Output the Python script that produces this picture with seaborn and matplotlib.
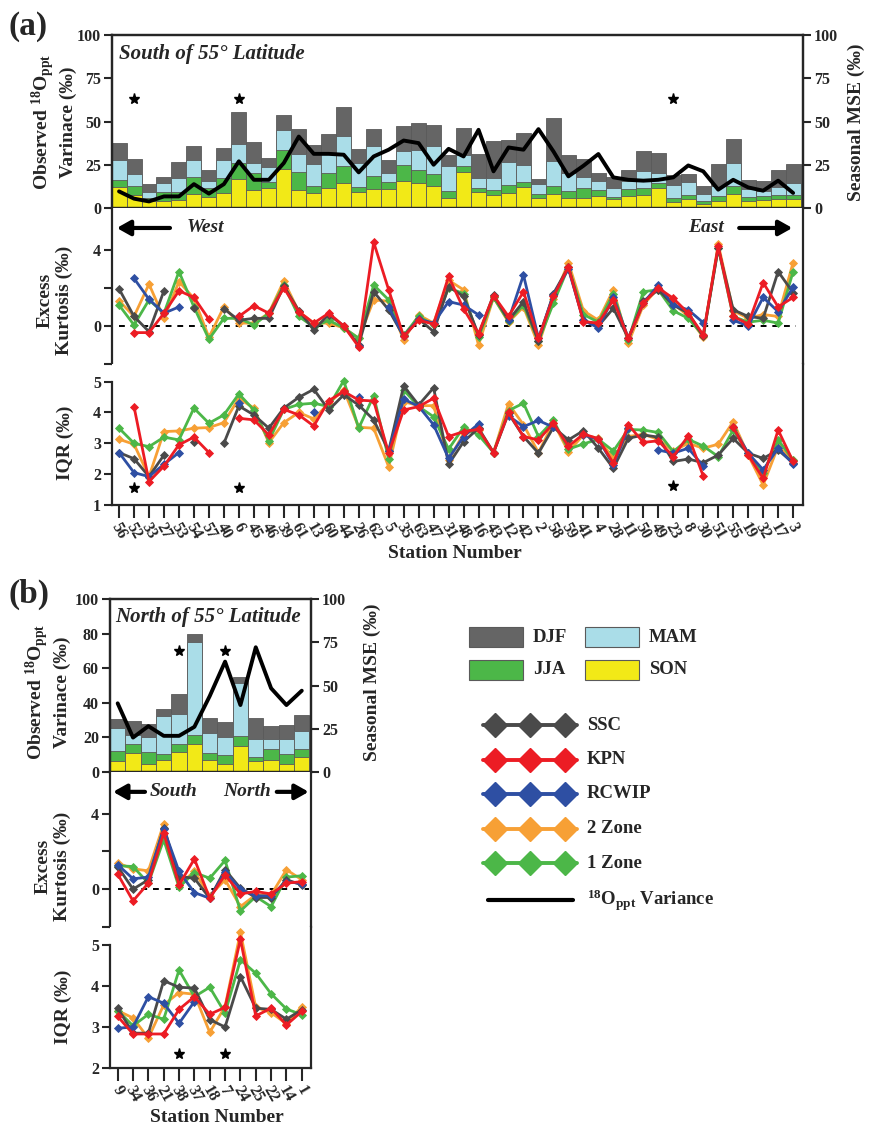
import numpy as np
import pandas as pd
import matplotlib
matplotlib.use("Agg")
import matplotlib.pyplot as plt
import seaborn as sns
from matplotlib.patches import Rectangle

sns.set_style("ticks")
plt.rcParams.update({
    "font.family": ["Liberation Serif", "DejaVu Serif"],
    "font.weight": "bold",
    "axes.labelweight": "bold",
    "mathtext.fontset": "custom",
    "mathtext.rm": "Liberation Serif:bold",
    "mathtext.bf": "Liberation Serif:bold",
    "mathtext.it": "Liberation Serif:italic:bold",
    "mathtext.default": "rm",
    "axes.linewidth": 1.6,
})

nan = np.nan

# ---------------- Panel (a): south of 55 deg ----------------
stations_a = ["56", "52", "33", "27", "53", "54", "57", "40", "6", "45", "46", "39", "61", "13",
              "60", "44", "26", "62", "5", "35", "63", "47", "31", "48", "16", "43", "12", "42",
              "2", "58", "59", "41", "4", "28", "11", "50", "49", "23", "8", "30", "51", "55",
              "19", "32", "17", "3"]
son_a = [12, 7.7, 4, 4, 4.6, 8, 6.5, 8.7, 17, 10.2, 11.3, 22.7, 10.2, 8.7, 11.5, 14.4, 9, 11, 11,
         15.4, 14.4, 12.5, 5.8, 20.8, 9, 7.3, 8.7, 12, 5.8, 8, 5.8, 5.8, 7.1, 5.2, 7.1, 7.3, 11.5,
         3.3, 5.2, 2.3, 4.2, 8, 4.2, 4.8, 5, 5.2]
jja_a = [4, 5.3, 2, 5, 4.4, 9.7, 5, 8.6, 9.3, 10, 3.5, 11, 10.6, 4.2, 8.7, 9.6, 3, 7.5, 3.8, 9.2,
         7.3, 7.3, 4.2, 3.2, 2.5, 3.3, 4.8, 2.8, 2.2, 4.5, 3.8, 5.7, 3.1, 1.1, 4.1, 4.2, 2.9, 2.5,
         2.5, 1.5, 2.5, 4.5, 2.1, 1.9, 2.5, 2.5]
mam_a = [12, 6.6, 3, 5.2, 8.3, 9.8, 3.9, 10.6, 10.8, 6.1, 8.7, 11.1, 10.5, 12.5, 11.9, 17.7, 14,
         17.5, 5.2, 8.4, 12, 15.8, 14, 6.4, 5.8, 6.7, 13, 10.2, 5.8, 14.8, 10.6, 6.2, 5.2, 5.2, 4.2,
         9.7, 5.8, 7.7, 7.1, 4.2, 5.8, 13.8, 4.7, 2.9, 4.5, 6.7]
djf_a = [9.5, 8.7, 4.8, 3.7, 9.2, 8.1, 6.3, 6.7, 18.5, 12, 5.5, 8.9, 14.5, 10.8, 10.6, 16.6, 8.2,
         9.6, 8, 14.5, 15.7, 12.4, 6.4, 16.1, 14, 21.2, 12.9, 18.3, 3.1, 25, 10.6, 10.6, 4.8, 6.2,
         6.7, 11.8, 11.5, 5.3, 4.8, 4.9, 13.1, 13.5, 5.3, 5.8, 9.7, 11]
mse_a = [9.6, 5.4, 3.8, 6.7, 6.7, 13.8, 8.3, 13.8, 27, 16.3, 16.3, 26, 41.3, 31.3, 31.3, 30.8,
         20.6, 29.8, 33.7, 39, 37.5, 25, 34.2, 29.8, 45.2, 21.2, 35, 33.7, 45.6, 32.7, 18.3, 24.4,
         31.2, 17.7, 16.3, 15.8, 16.3, 17.7, 24.6, 21.2, 10.6, 16.3, 11.9, 10, 15.8, 8.7]

kurt_ssc_a = [1.95, 0.5, -0.3, 1.85, nan, 0.93, nan, 0.9, 0.3, 0.4, 0.4, 2.1, 0.8, -0.2, 0.6, 0.0,
              -1.0, 1.8, 0.85, -0.55, 0.37, -0.3, 2.07, 1.55, -0.47, 1.63, 0.3, 1.28, -0.8, 1.7,
              3.1, 0.3, 0.0, 0.93, -0.65, 1.3, 1.9, 1.1, 0.67, -0.55, 4.1, 0.85, 0.5, 0.4, 2.86, 1.75]
kurt_kpn_a = [nan, -0.35, -0.35, 0.67, 1.85, 1.5, 0.35, nan, 0.5, 1.07, 0.67, 2.0, 0.75, 0.15,
              0.67, 0.0, -1.1, 4.4, 1.9, -0.55, 0.3, 0.1, 2.6, 0.9, -0.4, 1.6, 0.5, 1.8, -0.65,
              1.55, 3.1, 0.23, 0.15, 1.37, -0.65, 1.2, 2.0, 1.45, 0.67, -0.47, 4.2, 0.5, 0.1, 2.28,
              1.0, 1.5]
kurt_rcwip_a = [nan, 2.5, 1.4, 0.67, 1.0, nan, nan, nan, 0.5, nan, nan, nan, nan, nan, nan, nan,
                -1.05, nan, 1.0, -0.55, 0.35, 0.15, 1.28, 1.1, 0.58, nan, 0.3, 2.68, -0.65, 1.63,
                3.0, 0.3, -0.1, 1.5, -0.65, 1.2, 2.15, 1.1, 0.85, 0.17, nan, 0.3, 0.0, 1.5, 0.75,
                2.03]
kurt_2z_a = [1.33, 0.5, 2.2, 0.4, 2.33, 1.45, -0.6, 1.0, 0.15, 0.15, 0.67, 2.37, 0.75, 0.15, 0.15,
             -0.1, -0.65, 1.37, 1.3, -0.75, 0.58, 0.15, 2.4, 1.9, -1.0, 1.5, 0.2, 1.0, -1.0, 1.4,
             3.33, 0.8, 0.3, 1.9, -0.9, 1.1, 2.0, 1.2, 0.5, -0.6, 4.3, 0.8, 0.4, 0.6, 0.5, 3.33]
kurt_1z_a = [1.1, 0.05, 1.37, 0.67, 2.86, 1.0, -0.7, 0.4, 0.4, 0.05, 0.67, 2.15, 0.5, -0.05, 0.3,
             -0.1, -0.65, 2.15, 1.37, -0.5, 0.5, 0.05, 2.0, 1.7, -0.6, 1.5, 0.25, 1.1, -0.8, 1.2,
             3.1, 0.6, 0.2, 1.7, -0.75, 1.8, 1.9, 0.8, 0.4, -0.5, 4.1, 0.5, 0.2, 0.3, 0.15, 2.86]

iqr_ssc_a = [2.7, 2.5, 1.92, 2.62, nan, 3.05, nan, 3.0, 4.21, 3.92, 3.49, 4.14, 4.49, 4.75, 4.08,
             4.57, 4.24, 3.76, 2.75, 4.86, 4.24, 4.8, 2.32, 3.05, 3.49, 2.7, 3.97, 3.22, 2.68, 3.52,
             3.11, 3.41, 2.84, 2.19, 3.16, 3.27, 3.2, 2.41, 2.49, 2.37, 2.62, 3.16, 2.68, 2.51,
             2.78, 2.37]
iqr_kpn_a = [nan, 4.19, 1.76, 2.26, 2.95, 3.2, 2.7, nan, 3.81, 3.76, 3.27, 4.1, 3.92, 3.56, 4.38,
             4.68, 4.4, 4.37, 2.68, 4.08, 4.19, 4.46, 3.22, 3.38, 3.45, 2.7, 4.0, 3.22, 3.11, 3.65,
             2.9, 3.3, 3.15, 2.35, 3.6, 3.03, 3.08, 2.57, 3.24, 1.94, nan, 3.52, 2.62, 1.86, 3.43,
             2.41]
iqr_rcwip_a = [2.7, 2.05, 1.92, 2.32, 2.7, nan, nan, nan, 4.32, nan, nan, nan, nan, 4.0, nan, nan,
               4.49, nan, 2.75, 4.43, 4.2, 3.6, 2.51, 3.22, 3.63, nan, 3.89, 3.54, 3.74, 3.52, nan,
               3.27, 3.13, 2.3, 3.49, nan, 2.78, 2.68, 2.84, 2.26, nan, 3.52, 2.68, 2.14, 2.84, 2.33]
iqr_2z_a = [3.13, 2.97, 1.92, 3.38, 3.4, 3.49, 3.51, 3.67, 4.46, 4.14, 3.02, 3.67, 4.0, 3.79, 4.3,
            4.73, 3.52, 3.49, 2.24, 4.35, 4.22, 4.22, 2.45, 3.32, 3.43, 2.7, 4.28, 3.6, 2.7, 3.67,
            2.73, 3.27, 3.16, 2.51, 3.22, 3.29, 3.13, 2.75, 3.0, 2.84, 2.97, 3.7, 2.62, 1.65, 2.9,
            2.46]
iqr_1z_a = [3.49, 3.0, 2.89, 3.2, 3.11, 4.14, 3.65, 3.92, 4.6, 4.08, 3.08, 4.1, 4.26, 4.3, 4.19,
            5.03, 3.49, 4.54, 2.49, 4.73, 4.19, 3.86, 2.81, 3.52, 3.27, 2.7, 4.06, 4.3, 3.22, 3.74,
            2.81, 2.98, 3.13, 2.75, 3.45, 3.43, 3.35, 2.73, 3.13, 2.91, 2.57, 3.43, 2.68, 2.03,
            3.11, 2.46]

star_idx_a = [1, 8, 37]
star_top_a = [63, 63, 63]
star_iqr_a = [1.55, 1.56, 1.6]

# ---------------- Panel (b): north of 55 deg ----------------
stations_b = ["9", "34", "36", "21", "38", "37", "18", "7", "24", "25", "22", "14", "1"]
son_b = [6.4, 11, 4.4, 7.2, 11.4, 16.4, 6.8, 4.8, 15.1, 6.2, 6.8, 4.4, 8.7]
jja_b = [5.6, 5, 7.2, 3.4, 5, 4.9, 4.2, 5.2, 5.6, 2.5, 6.7, 5.9, 4.5]
mam_b = [13.7, 5.3, 8.4, 21.9, 17.4, 53.6, 11.8, 10.3, 30.6, 10.6, 5.8, 9, 10.4]
djf_b = [4.9, 8.1, 8, 3.7, 11.5, 5, 8.5, 8.7, 3.8, 12, 7.4, 7.8, 9.1]
mse_b = [39.7, 19.9, 26.5, 20.9, 20.9, 26.1, 43.9, 63.8, 38.7, 72.1, 48.4, 38.7, 47.0]

kurt_ssc_b = [1.2, 0.0, 0.5, 3.24, 0.67, 0.58, -0.48, 1.03, 0.05, -0.44, -0.44, 0.5, 0.23]
kurt_kpn_b = [0.8, -0.62, 0.32, 2.97, 0.23, 1.6, -0.48, 0.76, -0.25, -0.12, -0.25, 0.32, 0.4]
kurt_rcwip_b = [1.3, 0.55, 0.64, 3.2, 0.94, -0.18, -0.48, 0.9, 0.0, -0.35, -0.35, 0.4, 0.3]
kurt_2z_b = [1.38, 1.08, 0.97, 3.45, 0.23, 0.94, -0.35, 0.5, -0.92, -0.3, -0.3, 1.03, 0.5]
kurt_1z_b = [1.24, 1.2, 0.32, 2.62, 0.1, 0.88, 0.58, 1.52, -1.15, -0.39, -0.92, 0.64, 0.71]

iqr_ssc_b = [3.46, 2.85, 2.85, 4.13, 3.97, 3.95, 3.18, 3.0, 4.23, 3.46, 3.43, 3.19, 3.42]
iqr_kpn_b = [3.26, 2.83, 2.83, 2.83, 3.43, 3.74, 3.31, 3.48, 5.14, 3.27, 3.46, 3.05, 3.38]
iqr_rcwip_b = [2.97, 3.0, 3.74, 3.58, 3.09, 3.62, nan, nan, nan, nan, nan, nan, nan]
iqr_2z_b = [3.4, 3.22, 2.73, 3.54, 3.84, 3.8, 2.87, 3.5, 5.31, 3.48, 3.35, 3.08, 3.5]
iqr_1z_b = [3.4, 3.03, 3.31, 3.19, 4.39, 3.74, 3.97, 3.34, 4.64, 4.31, 3.81, 3.44, 3.3]

star_idx_b = [4, 7]
star_top_b = [70, 70]
star_iqr_b = [2.33, 2.35]

season_names = ["DJF", "MAM", "JJA", "SON"]
model_names = ["SSC", "KPN", "RCWIP", "2 Zone", "1 Zone"]

# ---------------- styling ----------------
C_DJF, C_MAM, C_JJA, C_SON = "#656565", "#aadde8", "#4cb748", "#f2e917"
BAR_EDGE = "#5a5a5a"
MODEL_COLORS = {"SSC": "#4a4a4a", "KPN": "#ec1c24", "RCWIP": "#2e4fa3",
                "2 Zone": "#f7a035", "1 Zone": "#4cb748"}
DRAW_ORDER = ["2 Zone", "1 Zone", "SSC", "RCWIP", "KPN"]

W, H = 870, 1128
fig = plt.figure(figsize=(W / 100, H / 100), dpi=100)


def rect(x0, y0, x1, y1):
    return [x0 / W, 1 - y1 / H, (x1 - x0) / W, (y1 - y0) / H]


def fp(x, y):
    return x / W, 1 - y / H


def draw_series(ax, vals, color):
    v = np.asarray(vals, dtype=float)
    df = pd.DataFrame({"pos": np.arange(len(v)), "val": v,
                       "seg": np.cumsum(np.isnan(v))})
    sns.lineplot(data=df, x="pos", y="val", units="seg", estimator=None, sort=False,
                 color=color, lw=2.0, marker="D", markersize=4.3,
                 markeredgecolor=color, markeredgewidth=0.6, ax=ax, legend=False)


def panel(stations, son, jja, mam, djf, mse, kurt, iqr, star_idx, star_top, star_iqr,
          r_top, r_k, r_i, xlim, left_ticks, iqr_lim, iqr_ticks, title, arrows, tick_fs):
    n = len(stations)
    pos = np.arange(n)
    son = np.array(son); jja = np.array(jja); mam = np.array(mam); djf = np.array(djf)
    c_jja = son + jja
    c_mam = c_jja + mam
    c_djf = c_mam + djf

    ax = fig.add_axes(r_top)
    for vals, col in [(c_djf, C_DJF), (c_mam, C_MAM), (c_jja, C_JJA), (son, C_SON)]:
        sns.barplot(x=pos, y=vals, native_scale=True, color=col, saturation=1, width=1.0,
                    edgecolor=BAR_EDGE, linewidth=0.6, errorbar=None, ax=ax)
    ax.plot(star_idx, star_top, ls="none", marker="*", color="k", ms=8)
    ax.set_xlim(*xlim)
    ax.set_ylim(0, 100)
    ax.set_xticks([])
    ax.set_yticks(left_ticks)
    ax.set_xlabel(""); ax.set_ylabel("")
    ax.tick_params(axis="y", direction="out", length=6, width=1.5, labelsize=tick_fs, pad=2)
    ax.text(title[0], title[1], title[2], transform=ax.transAxes, fontsize=title[3],
            fontstyle="italic", fontweight="bold", va="center", ha="left")

    ax2 = ax.twinx()
    sns.lineplot(x=pos, y=np.array(mse), color="k", lw=2.8, ax=ax2)
    ax2.set_xlim(*xlim)
    ax2.set_ylim(0, 100)
    ax2.set_yticks([0, 25, 50, 75, 100])
    ax2.set_ylabel("")
    ax2.tick_params(axis="y", direction="out", length=6, width=1.5, labelsize=tick_fs, pad=2)

    # kurtosis
    axk = fig.add_axes(r_k)
    for name in DRAW_ORDER:
        draw_series(axk, kurt[name], MODEL_COLORS[name])
    axk.hlines(0, 0, xlim[1] - 0.5 if n > 20 else n - 1 + 0.45, colors="k",
               linestyles=(0, (3, 3)), lw=1.4, clip_on=False, zorder=1)
    axk.set_xlim(*xlim)
    axk.set_ylim(-2, 6.2)
    axk.set_yticks([-2, 0, 2, 4])
    axk.set_yticklabels(["", "0", "", "4"])
    axk.set_xticks([])
    axk.set_xlabel(""); axk.set_ylabel("")
    axk.spines["top"].set_visible(False)
    axk.spines["bottom"].set_visible(False)
    axk.tick_params(axis="y", direction="out", length=6, width=1.5, labelsize=tick_fs, pad=2)
    for (x0, x1, y, lab, tx, ha) in arrows:
        axk.annotate("", xy=(x1, y), xytext=(x0, y),
                     arrowprops=dict(arrowstyle="-|>,head_length=0.8,head_width=0.45",
                                     lw=3, color="k", shrinkA=0, shrinkB=0))
        axk.text(tx, y, lab, fontsize=14, fontstyle="italic", fontweight="bold",
                 va="center", ha=ha)

    # IQR
    axi = fig.add_axes(r_i)
    for name in DRAW_ORDER:
        draw_series(axi, iqr[name], MODEL_COLORS[name])
    axi.plot(star_idx, star_iqr, ls="none", marker="*", color="k", ms=8)
    axi.set_xlim(*xlim)
    axi.set_ylim(*iqr_lim)
    axi.set_yticks(iqr_ticks)
    axi.spines["top"].set_visible(False)
    axi.spines["left"].set_bounds(iqr_ticks[0], iqr_ticks[-1])
    axi.set_xticks(pos)
    axi.set_xticklabels(stations, rotation=-60, fontsize=tick_fs)
    axi.set_xlabel(""); axi.set_ylabel("")
    axi.tick_params(axis="y", direction="out", length=6, width=1.5, labelsize=tick_fs, pad=2)
    axi.tick_params(axis="x", direction="out", length=9, width=1.5, pad=2)
    return ax, axk, axi


kurt_a = {"SSC": kurt_ssc_a, "KPN": kurt_kpn_a, "RCWIP": kurt_rcwip_a,
          "2 Zone": kurt_2z_a, "1 Zone": kurt_1z_a}
iqr_a = {"SSC": iqr_ssc_a, "KPN": iqr_kpn_a, "RCWIP": iqr_rcwip_a,
         "2 Zone": iqr_2z_a, "1 Zone": iqr_1z_a}
kurt_b = {"SSC": kurt_ssc_b, "KPN": kurt_kpn_b, "RCWIP": kurt_rcwip_b,
          "2 Zone": kurt_2z_b, "1 Zone": kurt_1z_b}
iqr_b = {"SSC": iqr_ssc_b, "KPN": iqr_kpn_b, "RCWIP": iqr_rcwip_b,
         "2 Zone": iqr_2z_b, "1 Zone": iqr_1z_b}

panel(stations_a, son_a, jja_a, mam_a, djf_a, mse_a, kurt_a, iqr_a,
      star_idx_a, star_top_a, star_iqr_a,
      rect(112, 35, 803, 208), rect(112, 208, 803, 364), rect(112, 364, 803, 505),
      (-0.47, 45.66), [0, 25, 50, 75, 100], (1, 5.57), [1, 2, 3, 4, 5],
      (0.01, 0.89, "South of 55\u00b0 Latitude", 15),
      [(3.4, -0.15, 5.15, "West", 4.5, "left"), (41.4, 44.95, 5.15, "East", 38.0, "left")],
      11.5)

panel(stations_b, son_b, jja_b, mam_b, djf_b, mse_b, kurt_b, iqr_b,
      star_idx_b, star_top_b, star_iqr_b,
      rect(110, 599, 311, 772), rect(110, 772, 311, 927), rect(110, 927, 311, 1068),
      (-0.5, 12.6), [0, 20, 40, 60, 80, 100], (2, 5.44), [2, 3, 4, 5],
      (0.025, 0.895, "North of 55\u00b0 Latitude", 15),
      [(1.78, -0.3, 5.15, "South", 2.1, "left"), (10.37, 12.45, 5.15, "North", 6.86, "left")],
      11.5)

# ---------------- labels ----------------
LBL = 14
ylab_top = "Observed $^{18}$O$_{\\mathrm{ppt}}$\nVarinace (\u2030)"
fig.text(*fp(8, 27), "(a)", fontsize=24, fontweight="bold", ha="left", va="center")
fig.text(*fp(8, 594), "(b)", fontsize=24, fontweight="bold", ha="left", va="center")
fig.text(*fp(53, 122), ylab_top, rotation=90, fontsize=LBL, ha="center", va="center",
         multialignment="center")
fig.text(*fp(856, 122), "Seasonal MSE (\u2030)", rotation=90, fontsize=LBL, ha="center",
         va="center")
fig.text(*fp(55, 300), "Excess\nKurtosis (\u2030)", rotation=90, fontsize=LBL, ha="center",
         va="center", multialignment="center")
fig.text(*fp(65, 443), "IQR (\u2030)", rotation=90, fontsize=LBL, ha="center", va="center")
fig.text(*fp(455, 554), "Station Number", fontsize=LBL, ha="center", va="center")

fig.text(*fp(47, 692), ylab_top, rotation=90, fontsize=LBL, ha="center", va="center",
         multialignment="center")
fig.text(*fp(372, 682), "Seasonal MSE (\u2030)", rotation=90, fontsize=LBL, ha="center",
         va="center")
fig.text(*fp(53, 866), "Excess\nKurtosis (\u2030)", rotation=90, fontsize=LBL, ha="center",
         va="center", multialignment="center")
fig.text(*fp(63, 1007), "IQR (\u2030)", rotation=90, fontsize=LBL, ha="center", va="center")
fig.text(*fp(217, 1117), "Station Number", fontsize=LBL, ha="center", va="center")

# ---------------- legend ----------------
lg = fig.add_axes([0, 0, 1, 1], zorder=-1)
lg.set_xlim(0, W)
lg.set_ylim(H, 0)
lg.axis("off")
season_cols = {"DJF": C_DJF, "MAM": C_MAM, "JJA": C_JJA, "SON": C_SON}
patch_pos = {"DJF": (469, 627), "MAM": (585, 627), "JJA": (469, 660), "SON": (585, 660)}
for s in season_names:
    x0, y0 = patch_pos[s]
    lg.add_patch(Rectangle((x0, y0), 54, 20, facecolor=season_cols[s], edgecolor=BAR_EDGE, lw=0.8))
    lg.text(x0 + 64, y0 + 10, s, fontsize=13.5, va="center", ha="left")
for i, name in enumerate(model_names):
    y = 725 + 34.5 * i
    c = MODEL_COLORS[name]
    lg.plot([483, 577], [y, y], color=c, lw=2.8)
    lg.plot([495, 530, 565], [y, y, y], ls="none", marker="D", ms=12.5, color=c,
            markeredgecolor=c)
    lg.text(587, y, name, fontsize=13.5, va="center", ha="left")
lg.plot([488, 573], [900, 900], color="k", lw=3)
lg.text(587, 900, "$^{18}$O$_{\\mathrm{ppt}}$ Variance", fontsize=13.5, va="center", ha="left")

fig.savefig("out.png", dpi=100)
